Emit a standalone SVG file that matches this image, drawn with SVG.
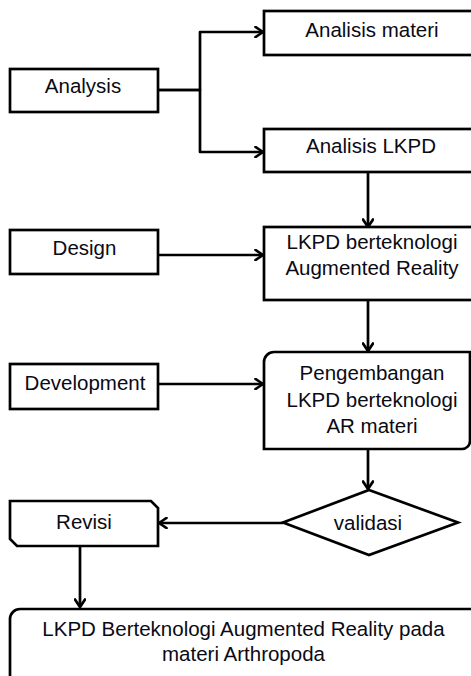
<svg xmlns="http://www.w3.org/2000/svg" width="471" height="676" viewBox="0 0 471 676">
  <defs>
    <style>
      .box { fill: #ffffff; stroke: #000000; stroke-width: 2.7; stroke-linejoin: miter; }
      .lbl { font-family: "Liberation Sans", Arial, sans-serif; font-size: 20.5px; fill: #0a0a14; text-anchor: middle; }
      .con { fill: none; stroke: #000000; stroke-width: 2.7; stroke-linejoin: round; }
    </style>
    <marker id="arr" viewBox="0 0 12 12" refX="10.5" refY="6" markerWidth="12" markerHeight="12" markerUnits="userSpaceOnUse" orient="auto">
      <path d="M3,1 L10.5,6 L3,11" fill="none" stroke="#000000" stroke-width="2.7" stroke-linecap="round" stroke-linejoin="round"/>
    </marker>
  </defs>
  <rect width="471" height="676" fill="#ffffff"/>

  <g id="connectors">
    <path class="con" d="M158,90 H200 V32 H263" marker-end="url(#arr)"/>
    <path class="con" d="M158,90 H200 V152 H263" marker-end="url(#arr)"/>
    <path class="con" d="M368,172 V227" marker-end="url(#arr)"/>
    <path class="con" d="M158,255 H263" marker-end="url(#arr)"/>
    <path class="con" d="M368,300 V351" marker-end="url(#arr)"/>
    <path class="con" d="M158,384 H263" marker-end="url(#arr)"/>
    <path class="con" d="M368,449 V489" marker-end="url(#arr)"/>
    <path class="con" d="M283,523 H159" marker-end="url(#arr)"/>
    <path class="con" d="M80,547 V607" marker-end="url(#arr)"/>
  </g>

  <g id="analysis">
    <rect class="box" x="10" y="69" width="148" height="43"/>
    <text class="lbl" x="83" y="93">Analysis</text>
  </g>
  <g id="analisis-materi">
    <rect class="box" x="264" y="11" width="216" height="44"/>
    <text class="lbl" x="372" y="37">Analisis materi</text>
  </g>
  <g id="analisis-lkpd">
    <rect class="box" x="264" y="129" width="216" height="43"/>
    <text class="lbl" x="371" y="153">Analisis LKPD</text>
  </g>
  <g id="design">
    <rect class="box" x="10" y="230" width="148" height="44"/>
    <text class="lbl" x="84.5" y="255">Design</text>
  </g>
  <g id="lkpd-ar">
    <rect class="box" x="264" y="227" width="216" height="73"/>
    <text class="lbl" x="372" y="249">LKPD berteknologi</text>
    <text class="lbl" x="372" y="275">Augmented Reality</text>
  </g>
  <g id="development">
    <rect class="box" x="10" y="364" width="148" height="45"/>
    <text class="lbl" x="85" y="390">Development</text>
  </g>
  <g id="pengembangan">
    <path class="box" d="M264,362 A10,10 0 0 1 274,352 H470 V441 A8,8 0 0 1 462,449 H264 Z"/>
    <text class="lbl" x="372" y="380">Pengembangan</text>
    <text class="lbl" x="372" y="407">LKPD berteknologi</text>
    <text class="lbl" x="372" y="433">AR materi</text>
  </g>
  <g id="validasi">
    <path class="box" d="M369,490 L458,522.5 L369,555 L283,522.5 Z"/>
    <text class="lbl" x="368" y="530">validasi</text>
  </g>
  <g id="revisi">
    <path class="box" d="M10,501 H151 L158,508 V546 H17 L10,539 Z"/>
    <text class="lbl" x="84" y="529">Revisi</text>
  </g>
  <g id="hasil">
    <path class="box" d="M10,690 V619 A10,10 0 0 1 20,609 H480 V690 Z"/>
    <text class="lbl" x="243.5" y="636">LKPD Berteknologi Augmented Reality pada</text>
    <text class="lbl" x="243.5" y="661">materi Arthropoda</text>
  </g>
</svg>
